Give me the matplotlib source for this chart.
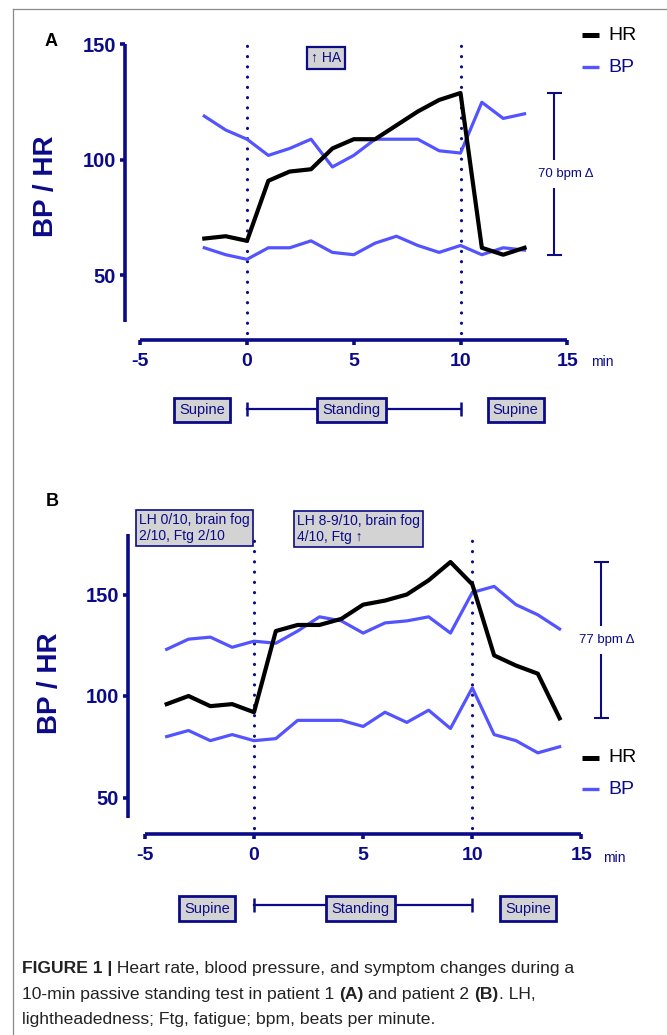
import matplotlib
matplotlib.use('Agg')
import matplotlib.pyplot as plt
from matplotlib.transforms import blended_transform_factory
from matplotlib.lines import Line2D

# ---------------- data ----------------
minutes_a = [-2, -1, 0, 1, 2, 3, 4, 5, 6, 7, 8, 9, 10, 11, 12, 13]
hr_a = [66, 67, 65, 91, 95, 96, 105, 109, 109, 115, 121, 126, 129, 62, 59, 62]
sbp_a = [119, 113, 109, 102, 105, 109, 97, 102, 109, 109, 109, 104, 103, 125, 118, 120]
dbp_a = [62, 59, 57, 62, 62, 65, 60, 59, 64, 67, 63, 60, 63, 59, 62, 61]

minutes_b = [-4, -3, -2, -1, 0, 1, 2, 3, 4, 5, 6, 7, 8, 9, 10, 11, 12, 13, 14]
hr_b = [96, 100, 95, 96, 92, 132, 135, 135, 138, 145, 147, 150, 157, 166, 155, 120, 115, 111, 89]
sbp_b = [123, 128, 129, 124, 127, 126, 132, 139, 137, 131, 136, 137, 139, 131, 151, 154, 145, 140, 133]
dbp_b = [80, 83, 78, 81, 78, 79, 88, 88, 88, 85, 92, 87, 93, 84, 104, 81, 78, 72, 75]

x_ticks = [-5, 0, 5, 10, 15]
y_ticks = [50, 100, 150]
x_ticklabels = ['-5', '0', '5', '10', '15']
y_ticklabels = ['50', '100', '150']
stand_start, stand_end = 0, 10
legend_labels = ['HR', 'BP']
note_a = '\u2191 HA'
note_b1 = 'LH 0/10, brain fog\n2/10, Ftg 2/10'
note_b2 = 'LH 8-9/10, brain fog\n4/10, Ftg \u2191'
phase_labels = ['Supine', 'Standing', 'Supine']

# ---------------- style ----------------
W, H, DPI = 667, 1035, 100
NAVY = '#0b0b88'
BPC = '#5454ff'
BOXFC = '#d3d3d3'
FONT = ['Liberation Sans', 'DejaVu Sans']
plt.rcParams['font.family'] = FONT

fig = plt.figure(figsize=(W / DPI, H / DPI), dpi=DPI)
fig.patch.set_facecolor('white')


def fx(px):
    return px / W


def fy(py):
    return 1 - py / H


def panel(top, bottom, x0, sx, y100, sy, yax_px, xax_py, ybounds,
          minutes, hr, sbp, dbp, brk_px, brk_txt_px, letter_xy, ylab_xy, legend_y,
          phase_y, phase_centres, min_xy):
    left, right = 110, 640
    ax = fig.add_axes([fx(left), fy(bottom), (right - left) / W, (bottom - top) / H])
    ax.set_xlim((left - x0) / sx, (right - x0) / sx)
    ax.set_ylim(100 - (bottom - y100) / sy, 100 - (top - y100) / sy)
    ax.patch.set_alpha(0)
    for s in ['top', 'right']:
        ax.spines[s].set_visible(False)
    xax_v = 100 - (xax_py - y100) / sy
    yax_t = (yax_px - x0) / sx
    ax.spines['left'].set_position(('data', yax_t))
    ax.spines['bottom'].set_position(('data', xax_v))
    ax.spines['left'].set_bounds(*ybounds)
    ax.spines['bottom'].set_bounds(x_ticks[0], x_ticks[-1])
    for s in ['left', 'bottom']:
        ax.spines[s].set_color(NAVY)
        ax.spines[s].set_linewidth(2.6)
        ax.spines[s].set_capstyle('butt')
    ax.set_xticks(x_ticks)
    ax.set_xticklabels(x_ticklabels)
    ax.set_yticks(y_ticks)
    ax.set_yticklabels(y_ticklabels)
    ax.tick_params(axis='both', colors=NAVY, width=2.6, length=3.5)
    ax.tick_params(axis='x', pad=6)
    ax.tick_params(axis='y', pad=3)
    for lab in ax.get_xticklabels():
        lab.set_fontweight('bold'); lab.set_fontsize(14); lab.set_color(NAVY)
    for lab in ax.get_yticklabels():
        lab.set_fontweight('bold'); lab.set_fontsize(14.5); lab.set_color(NAVY)

    # dotted phase markers
    for t in (stand_start, stand_end):
        ax.plot([t, t], [xax_v + 3, ybounds[1]], color=NAVY, lw=2.3,
                linestyle=(0, (0.01, 3.2)), dash_capstyle='round', zorder=1)

    ax.plot(minutes, sbp, color=BPC, lw=2.3, zorder=3)
    ax.plot(minutes, dbp, color=BPC, lw=2.3, zorder=3)
    ax.plot(minutes, hr, color='black', lw=3.0, zorder=4)

    # HR change bracket
    mx, mn = max(hr), min(hr)
    brk_x = (brk_px - x0) / sx
    ax.errorbar([brk_x], [(mx + mn) / 2], yerr=[(mx - mn) / 2], color=NAVY,
                lw=1.5, capsize=5.4, capthick=1.5, zorder=2)
    ax.text((brk_txt_px - x0) / sx, (mx + mn) / 2, f'{mx - mn} bpm \u0394', color=NAVY,
            fontsize=9.5, ha='center', va='center', zorder=5,
            bbox=dict(boxstyle='square,pad=0.6', fc='white', ec='none'))

    # letter & y-label
    fig.text(fx(letter_xy[0]), fy(letter_xy[1]), letter_xy[2], fontsize=13,
             fontweight='bold', ha='center', va='center', color='black')
    fig.text(fx(ylab_xy[0]), fy(ylab_xy[1]), 'BP / HR', fontsize=20,
             fontweight='bold', rotation=90, ha='center', va='center', color=NAVY)
    fig.text(fx(min_xy[0]), fy(min_xy[1]), 'min', fontsize=10, ha='left',
             va='baseline', color=NAVY)

    # legend
    for i, (lab, col, lw, tc) in enumerate(zip(legend_labels, ['black', BPC],
                                                 [3.6, 2.4], ['black', NAVY])):
        yy = legend_y[i]
        fig.add_artist(Line2D([fx(581.5), fx(598.5)], [fy(yy), fy(yy)], color=col,
                              lw=lw, solid_capstyle='butt'))
        fig.text(fx(608), fy(yy), lab, fontsize=14, color=tc, ha='left', va='center')

    # phase row
    tr = blended_transform_factory(ax.transData, fig.transFigure)
    ax.plot([stand_start, stand_end], [fy(phase_y[0])] * 2, color=NAVY, lw=1.6,
            transform=tr, clip_on=False)
    ax.plot([stand_start, stand_end], [fy(phase_y[0])] * 2, color=NAVY, lw=0,
            marker='|', markersize=9.5, markeredgewidth=1.8, transform=tr,
            clip_on=False)
    for c, lab in zip(phase_centres, phase_labels):
        ax.text(c, fy(phase_y[1]), lab, transform=tr, fontsize=10.5, color=NAVY,
                ha='center', va='center', zorder=6,
                bbox=dict(boxstyle='square,pad=0.35', fc=BOXFC, ec=NAVY, lw=2.0))
    return ax


# ---------------- panel A ----------------
axA = panel(top=30, bottom=350, x0=247, sx=21.35, y100=160, sy=2.31,
            yax_px=125, xax_py=340, ybounds=(30, 150),
            minutes=minutes_a, hr=hr_a, sbp=sbp_a, dbp=dbp_a,
            brk_px=554, brk_txt_px=565.5, letter_xy=(51, 41, 'A'),
            ylab_xy=(46, 186), legend_y=(35, 67), phase_y=(409, 410),
            phase_centres=[-2.1, 4.9, 12.58], min_xy=(591, 366))
axA.text((326 - 247) / 21.35, 100 - (58 - 160) / 2.31, note_a, fontsize=10,
         color=NAVY, ha='center', va='center', zorder=6,
         bbox=dict(boxstyle='square,pad=0.3', fc=BOXFC, ec=NAVY, lw=1.6))

# ---------------- panel B ----------------
axB = panel(top=500, bottom=850, x0=254, sx=21.83, y100=696, sy=2.03,
            yax_px=128, xax_py=834, ybounds=(40, 180),
            minutes=minutes_b, hr=hr_b, sbp=sbp_b, dbp=dbp_b,
            brk_px=600.7, brk_txt_px=607, letter_xy=(52, 501, 'B'),
            ylab_xy=(50, 683), legend_y=(758, 789), phase_y=(905, 908.5),
            phase_centres=[-2.15, 4.88, 12.55], min_xy=(603, 862))
for (bx, by, txt) in [((139 - 254) / 21.83, 100 + (696 - 513) / 2.03, note_b1),
                      ((297 - 254) / 21.83, 100 + (696 - 514) / 2.03, note_b2)]:
    axB.text(bx, by, txt, fontsize=10, color=NAVY, ha='left', va='top', zorder=6,
             linespacing=1.15,
             bbox=dict(boxstyle='square,pad=0.25', fc=BOXFC, ec=NAVY, lw=1.2))

# ---------------- frame ----------------
fig.add_artist(Line2D([fx(13.5), fx(13.5)], [fy(9), fy(1035)], color='#8a8a8a', lw=0.9))
fig.add_artist(Line2D([fx(13.5), fx(667)], [fy(9), fy(9)], color='#8a8a8a', lw=0.9))

# ---------------- caption ----------------
CAPF = ['Liberation Sans Narrow', 'Liberation Sans', 'DejaVu Sans']
renderer = fig.canvas.get_renderer()


def rich_line(x_px, y_px, segments, size=12.6):
    x = x_px
    for s, w in segments:
        t = fig.text(fx(x), fy(y_px), s, fontsize=size, fontweight=w, ha='left',
                     va='baseline', color='#222222', family=CAPF)
        x += t.get_window_extent(renderer).width


rich_line(22, 973, [('FIGURE 1 |', 'bold'),
                    (' Heart rate, blood pressure, and symptom changes during a', 'normal')])
rich_line(22, 999, [('10-min passive standing test in patient 1 ', 'normal'), ('(A)', 'bold'),
                    (' and patient 2 ', 'normal'), ('(B)', 'bold'), ('. LH,', 'normal')])
rich_line(22, 1024, [('lightheadedness; Ftg, fatigue; bpm, beats per minute.', 'normal')])

fig.savefig('out.png', dpi=DPI)
